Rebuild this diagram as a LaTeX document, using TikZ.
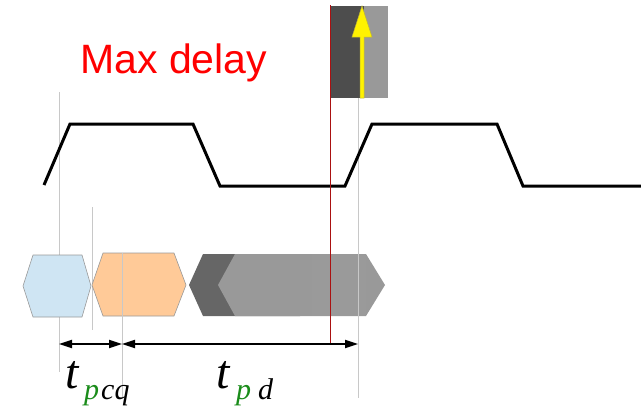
\documentclass[tikz,border=0pt]{standalone}
\usepackage{fontspec}
\setmainfont{Liberation Serif}
\newfontfamily\labelsans{Liberation Sans}
\usetikzlibrary{arrows.meta}
\definecolor{hexblue}{HTML}{CFE5F3}
\definecolor{hexorange}{HTML}{FFCA98}
\definecolor{hexdark}{HTML}{666666}
\definecolor{hexlight}{HTML}{999999}
\definecolor{boxdark}{HTML}{4D4D4D}
\definecolor{guide}{HTML}{C8C8C8}
\definecolor{redline}{HTML}{AA1111}
\definecolor{subgreen}{HTML}{1A8C1A}
\tikzset{
  wave/.style={line width=3pt, line join=miter},
  guideline/.style={draw=guide, line width=0.9pt},
  hexout/.style={draw=gray!80, line width=0.6pt},
  dimarrow/.style={line width=1.8pt, {Triangle[length=13pt,width=8pt]}-{Triangle[length=13pt,width=8pt]}},
  bigt/.style={inner sep=0pt, anchor=base west, font=\fontsize{48}{48}\selectfont\itshape},
  subtxt/.style={inner sep=0pt, anchor=base west, font=\fontsize{30}{30}\selectfont\itshape}
}
\begin{document}
\begin{tikzpicture}[x=1pt,y=-1pt]
\useasboundingbox (0,0) rectangle (641,405);
% guide lines
\draw[guideline] (59,92) -- (59,372);
\draw[guideline] (92,207) -- (92,330);
% hexagons
\filldraw[hexout, fill=hexblue] (23,286) -- (33,255) -- (82,255) -- (91,286) -- (82,317) -- (33,317) -- cycle;
\filldraw[hexout, fill=hexorange] (92,285) -- (103,253) -- (174,253) -- (186,285) -- (174,316) -- (103,316) -- cycle;
\fill[hexdark] (189,285) -- (203,254) -- (300,254) -- (300,316) -- (203,316) -- cycle;
\fill[hexlight] (218,285) -- (235,254) -- (366,254) -- (385,285) -- (366,316) -- (235,316) -- cycle;
\fill[hexlight!99!white] (312,254) rectangle (366,316);
% guide lines over hexagons
\draw[guideline] (122,253) -- (122,398);
\draw[guideline] (358,97) -- (358,398);
% waveform
\draw[wave] (44,185) -- (70,124) -- (193,124) -- (220,186) -- (345,186) -- (372,124) -- (497,124) -- (523,186) -- (641,186);
% top box
\fill[boxdark] (330,6) rectangle (364,98);
\fill[hexlight] (364,6) rectangle (388,98);
% red line
\draw[redline, line width=0.9pt] (330,5) -- (330,345);
% yellow arrow
\draw[draw=yellow!70!black, fill=yellow, line width=0.5pt] (360,98) -- (360,37) -- (352,37) -- (362,6) -- (372,37) -- (364,37) -- (364,98) -- cycle;
% coordinates and dimension arrows
\coordinate (a) at (59,344);
\coordinate (b) at (122,344);
\coordinate (c) at (358,344);
\draw[dimarrow] (a) -- (b);
\draw[dimarrow] (b) -- (c);
% labels
\node[text=red, inner sep=0pt, anchor=base west, font=\labelsans\fontsize{41}{41}\selectfont] (maxd) at (80,73) {Max delay};
\node[bigt] (t1) at (65,388) {t};
\node[subtxt, text=subgreen] (p1) at (84,399) {p};
\node[subtxt] (cq) at (101,399) {cq};
\node[bigt] (t2) at (216,388) {t};
\node[subtxt, text=subgreen] (p2) at (236,399) {p};
\node[subtxt] (d2) at (258,399) {d};
\end{tikzpicture}
\end{document}
